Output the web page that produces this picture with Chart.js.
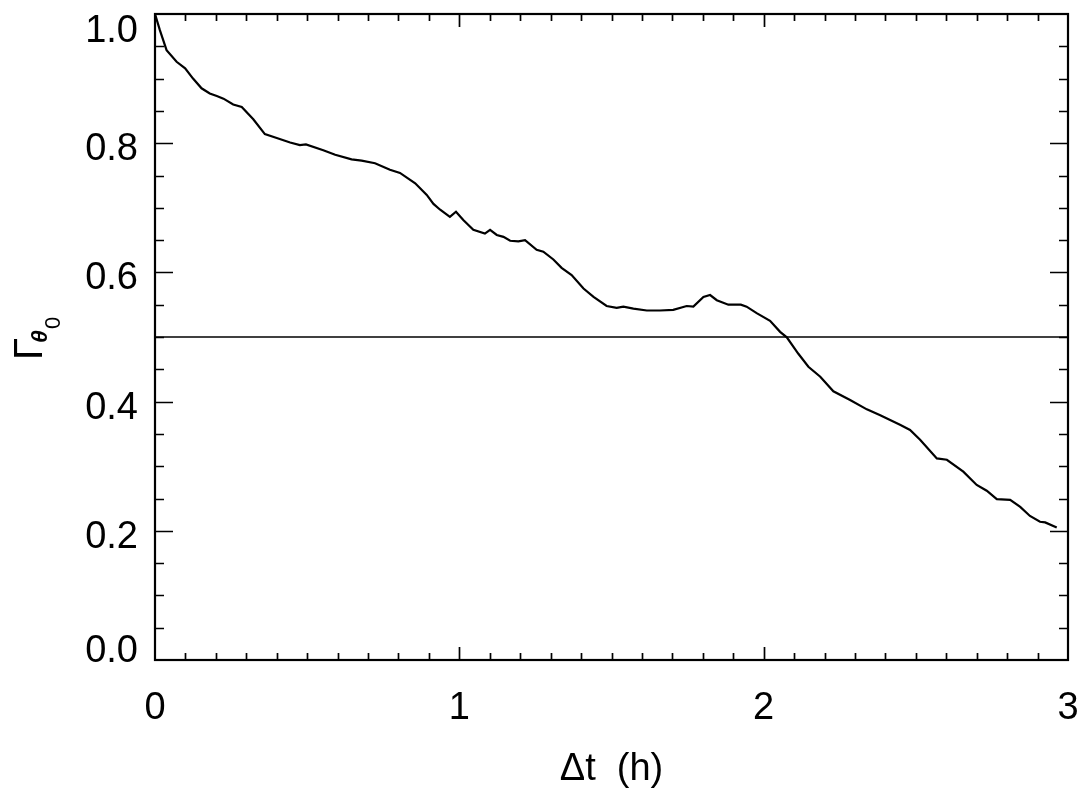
<!DOCTYPE html>
<html>
<head>
<meta charset="utf-8">
<script src="https://cdn.jsdelivr.net/npm/chart.js@4"></script>
<style>
  html, body { margin: 0; padding: 0; background: #fff; }
  canvas { display: block; }
</style>
</head>
<body>
<canvas id="chart" width="1088" height="790"></canvas>
<script>
// --- Data ---
const hours = [0, 0.016, 0.038, 0.071, 0.099, 0.125, 0.153, 0.18, 0.203, 0.225,
  0.257, 0.285, 0.323, 0.361, 0.40, 0.444, 0.476, 0.496, 0.553, 0.592,
  0.646, 0.679, 0.723, 0.772, 0.805, 0.855, 0.893, 0.915, 0.937, 0.969,
  0.989, 1.013, 1.046, 1.084, 1.101, 1.123, 1.145, 1.167, 1.194, 1.216,
  1.254, 1.276, 1.309, 1.336, 1.369, 1.408, 1.441, 1.484, 1.517, 1.539,
  1.572, 1.616, 1.659, 1.703, 1.747, 1.769, 1.802, 1.824, 1.846, 1.884,
  1.925, 1.944, 1.977, 2.021, 2.054, 2.076, 2.114, 2.147, 2.186, 2.229,
  2.284, 2.339, 2.383, 2.448, 2.481, 2.514, 2.569, 2.602, 2.656, 2.70,
  2.733, 2.766, 2.81, 2.843, 2.875, 2.908, 2.925, 2.963];
const gamma = [1.0, 0.975, 0.944, 0.926, 0.916, 0.900, 0.885, 0.877, 0.873, 0.869,
  0.860, 0.856, 0.837, 0.814, 0.808, 0.801, 0.797, 0.798, 0.789, 0.782,
  0.775, 0.773, 0.769, 0.759, 0.754, 0.738, 0.720, 0.706, 0.697, 0.686,
  0.694, 0.681, 0.666, 0.660, 0.666, 0.658, 0.655, 0.649, 0.648, 0.650,
  0.635, 0.632, 0.620, 0.607, 0.596, 0.575, 0.562, 0.548, 0.545, 0.547,
  0.544, 0.541, 0.541, 0.542, 0.548, 0.547, 0.562, 0.565, 0.557, 0.550,
  0.550, 0.547, 0.537, 0.525, 0.508, 0.4995, 0.474, 0.454, 0.4385, 0.416,
  0.4025, 0.388, 0.379, 0.364, 0.356, 0.341, 0.312, 0.310, 0.2915, 0.271,
  0.262, 0.249, 0.248, 0.237, 0.223, 0.214, 0.213, 0.205];
const threshold = 0.5;
const xTicks = [0, 1, 2, 3];
const xTickLabels = ['0', '1', '2', '3'];
const yTicks = [0, 0.2, 0.4, 0.6, 0.8, 1.0];
const yTickLabels = ['0.0', '0.2', '0.4', '0.6', '0.8', '1.0'];

const FONT = '"Liberation Sans", Arial, sans-serif';

// --- Frame, ticks, labels (IDL style, ticks pointing inward) ---
const idlAxes = {
  id: 'idlAxes',
  afterDraw(chart) {
    const c = chart.ctx;
    const a = chart.chartArea;
    const xs = chart.scales.x, ys = chart.scales.y;
    c.save();
    c.strokeStyle = '#000';
    c.fillStyle = '#000';
    c.lineWidth = 2.2;
    c.strokeRect(a.left, a.top, a.right - a.left, a.bottom - a.top);

    c.lineWidth = 1.7;
    c.beginPath();
    // x ticks every 0.1, major every 1
    for (let i = 1; i < 30; i++) {
      const px = Math.round(xs.getPixelForValue(i / 10)) + 0.5;
      const len = i % 10 === 0 ? 13 : 7;
      c.moveTo(px, a.bottom); c.lineTo(px, a.bottom - len);
      c.moveTo(px, a.top); c.lineTo(px, a.top + len);
    }
    // y ticks every 0.05, major every 0.2
    for (let i = 1; i < 20; i++) {
      const py = Math.round(ys.getPixelForValue(i / 20)) + 0.5;
      const len = i % 4 === 0 ? 18 : 9;
      c.moveTo(a.left, py); c.lineTo(a.left + len, py);
      c.moveTo(a.right, py); c.lineTo(a.right - len, py);
    }
    c.stroke();

    c.font = '38px ' + FONT;
    c.textBaseline = 'alphabetic';
    c.textAlign = 'right';
    yTicks.forEach((v, i) => {
      let by = ys.getPixelForValue(v) + 17;
      if (i === yTicks.length - 1) by = a.top + 28;
      if (i === 0) by = a.bottom + 2;
      c.fillText(yTickLabels[i], a.left - 17, by);
    });
    c.textAlign = 'center';
    xTicks.forEach((v, i) => {
      c.fillText(xTickLabels[i], xs.getPixelForValue(v), a.bottom + 59);
    });

    // axis titles
    c.fillText('\u0394t  (h)', (a.left + a.right) / 2, a.bottom + 120);

    c.translate(42, 360);
    c.rotate(-Math.PI / 2);
    c.textAlign = 'left';
    c.font = '40px ' + FONT;
    c.fillText('\u0393', 0, 0);
    c.font = 'italic bold 23px ' + FONT;
    c.fillText('\u03B8', 17, 5);
    c.font = '22px ' + FONT;
    c.fillText('0', 31, 18);
    c.restore();
  }
};

const ctx = document.getElementById('chart').getContext('2d');
new Chart(ctx, {
  type: 'line',
  data: {
    datasets: [
      {
        data: hours.map((h, i) => ({ x: h, y: gamma[i] })),
        borderColor: '#000',
        borderWidth: 2.2,
        pointRadius: 0,
        tension: 0
      },
      {
        data: [{ x: 0, y: threshold }, { x: 3, y: threshold }],
        borderColor: '#000',
        borderWidth: 1.4,
        pointRadius: 0
      }
    ]
  },
  options: {
    responsive: false,
    animation: false,
    layout: { padding: { top: 14, right: 20, left: 0, bottom: 0 } },
    plugins: { legend: { display: false }, tooltip: { enabled: false } },
    scales: {
      x: {
        type: 'linear', min: 0, max: 3,
        grid: { display: false }, border: { display: false },
        ticks: { display: false },
        afterFit: s => { s.height = 130; }
      },
      y: {
        min: 0, max: 1,
        grid: { display: false }, border: { display: false },
        ticks: { display: false },
        afterFit: s => { s.width = 155; }
      }
    }
  },
  plugins: [idlAxes]
});
</script>
</body>
</html>
